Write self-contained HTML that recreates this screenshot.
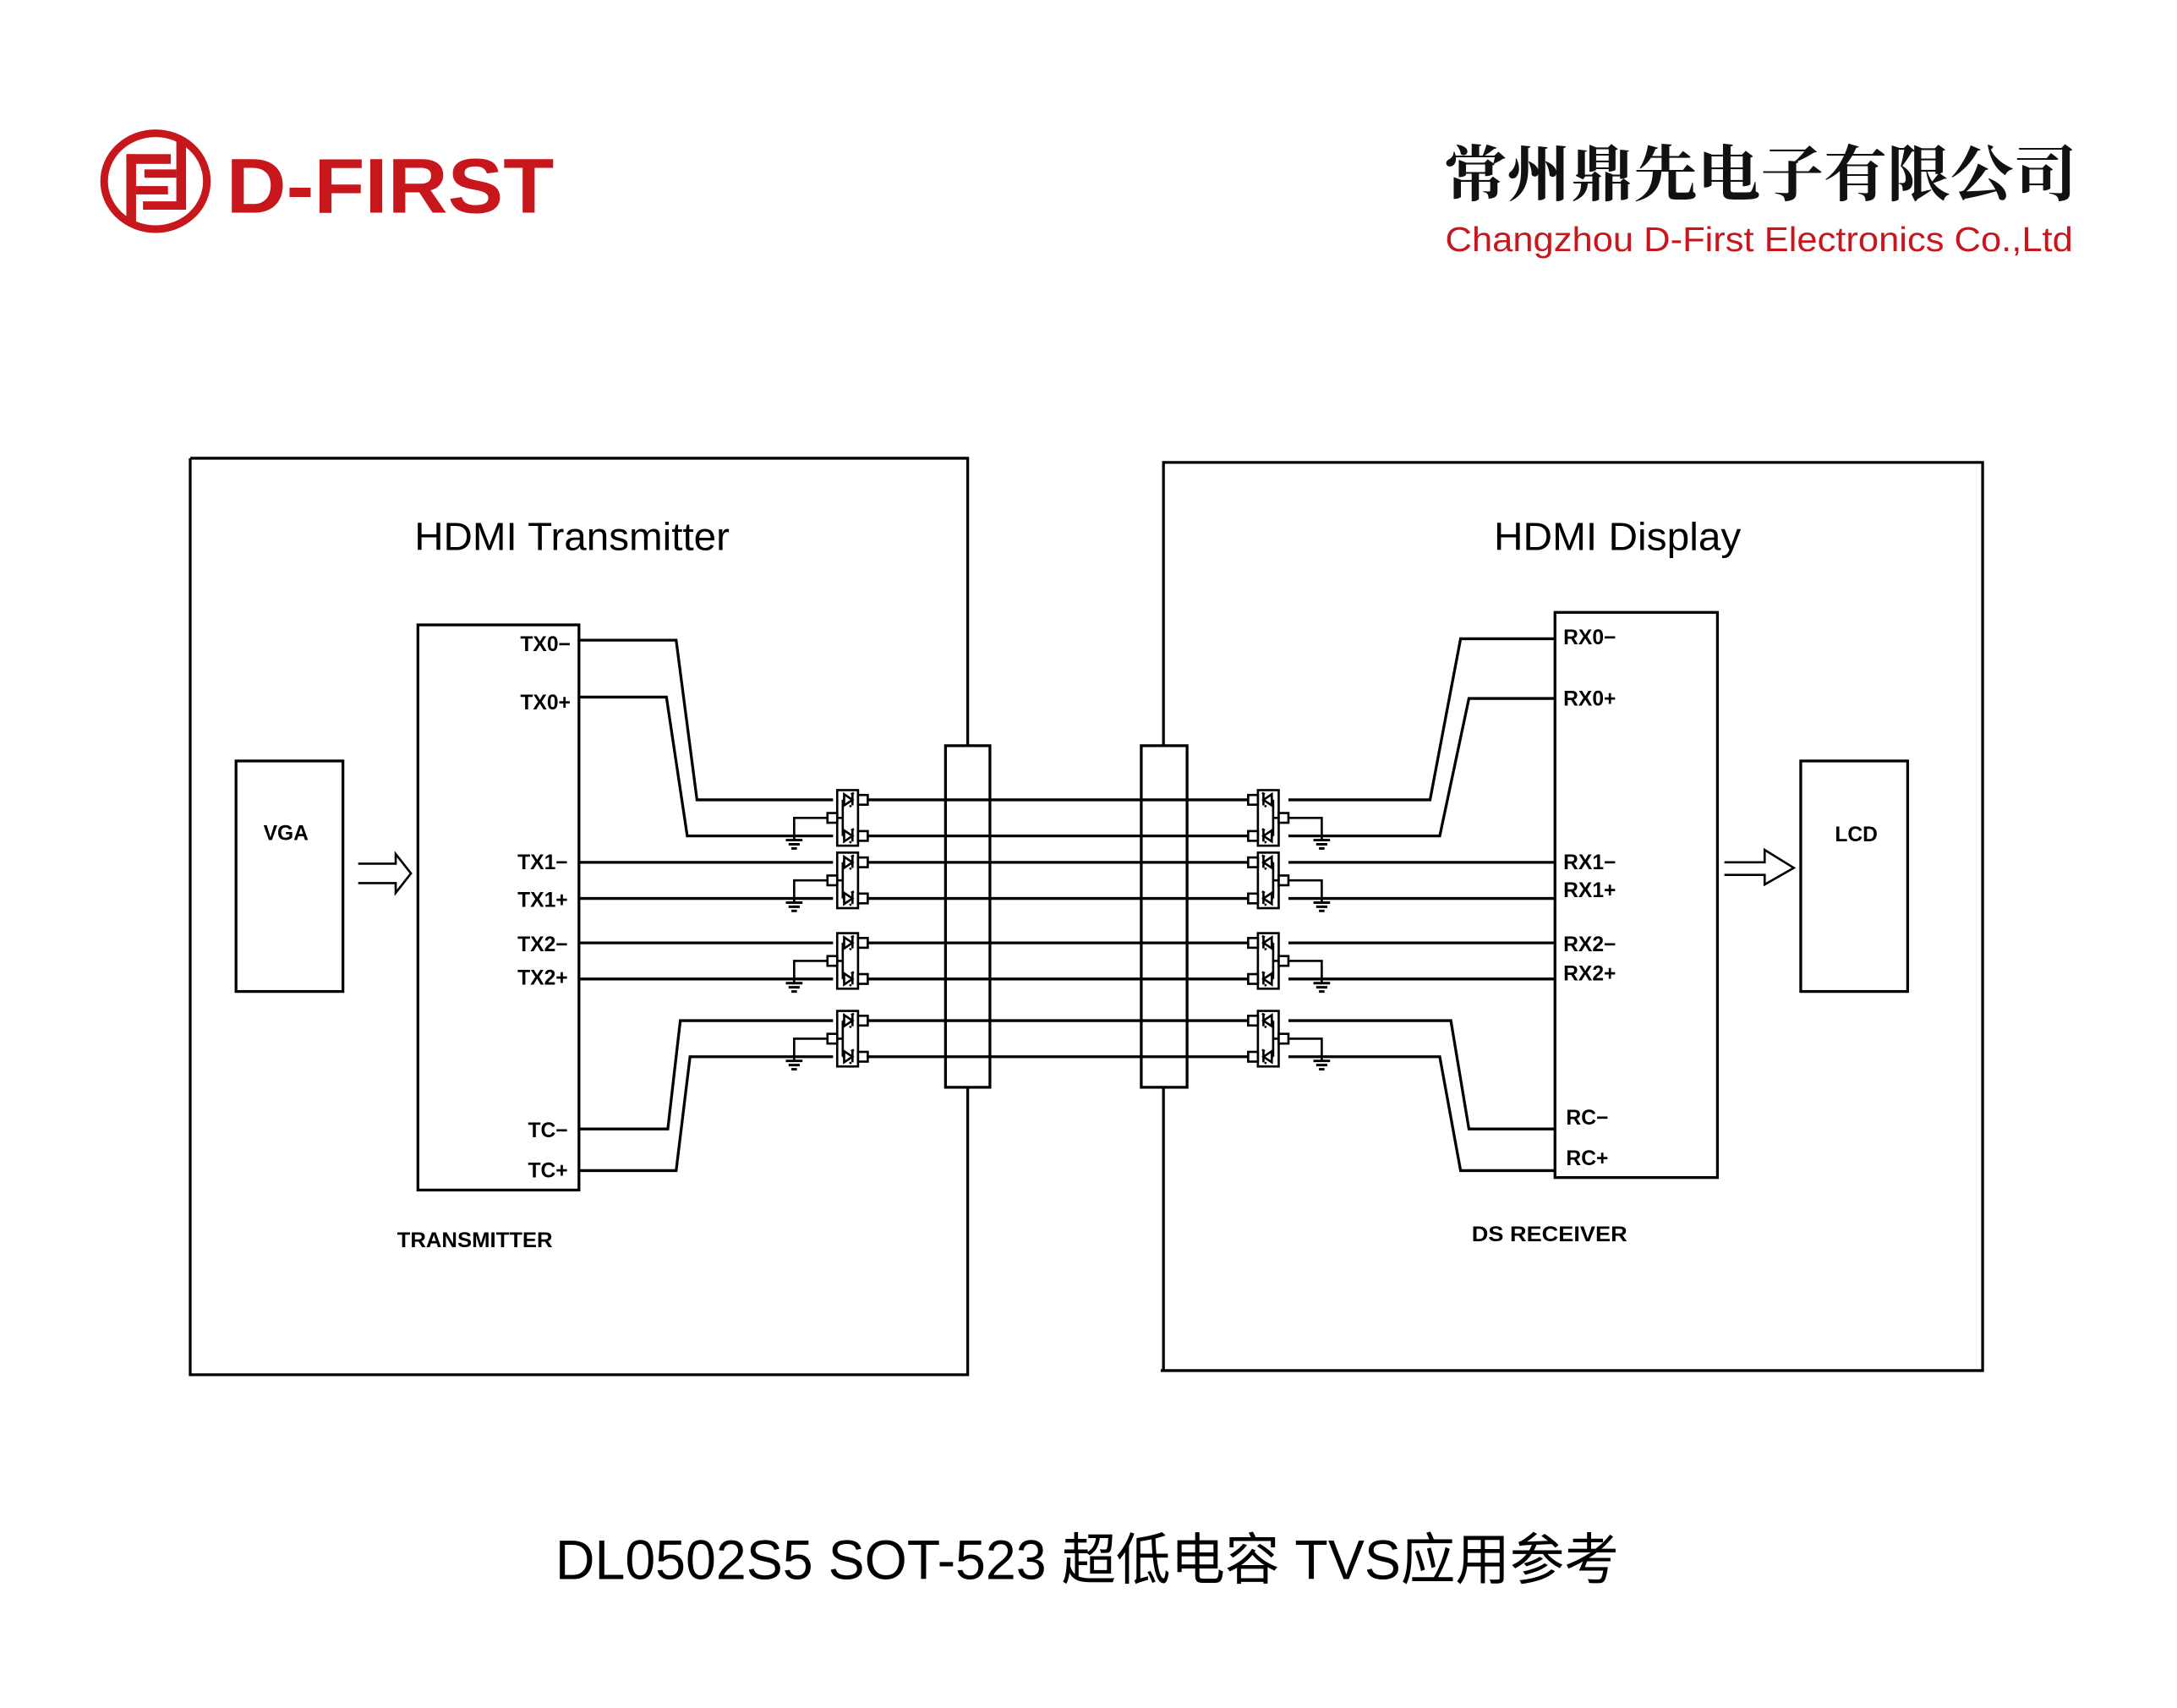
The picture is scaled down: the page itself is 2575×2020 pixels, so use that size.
<!DOCTYPE html>
<html><head><meta charset="utf-8"><style>
html,body{margin:0;padding:0;background:#fff;}
svg{display:block;}
text{font-family:"Liberation Sans","Noto Sans CJK SC",sans-serif;}
</style></head><body>
<svg width="2575" height="2020" viewBox="0 0 1568 1230" preserveAspectRatio="none" xmlns="http://www.w3.org/2000/svg">
<defs>
<g id="dev" fill="none" stroke="#000" stroke-width="1.6">
  <rect x="0" y="0" width="15" height="40" fill="#fff"/>
  <rect x="15" y="3.5" width="7" height="7" fill="#fff"/>
  <rect x="15" y="29.5" width="7" height="7" fill="#fff"/>
  <rect x="-7" y="16.5" width="7" height="7" fill="#fff"/>
  <path d="M0 20H4M4 7V33M4 7H5M4 33H5"/>
  <path d="M5 3L5 11L11 7Z M11 3V11 M10 3L12 2 M10 11L9 12"/>
  <path d="M5 29L5 37L11 33Z M11 29V37 M10 29L12 28 M10 37L9 38"/>
  <path d="M-7 20H-31V36"/>
  <path d="M-37 36H-25M-35 39H-27M-33 42H-29" stroke-width="1.8"/>
</g>
</defs>

<!-- Header logo -->
<g fill="#c8161d">
  <ellipse cx="112" cy="130.5" rx="37" ry="34.5" fill="none" stroke="#c8161d" stroke-width="5.5"/>
  <rect x="91" y="111" width="7" height="49"/>
  <rect x="91" y="111" width="32" height="7"/>
  <rect x="98" y="134" width="23" height="6"/>
  <rect x="127" y="101" width="7" height="50"/>
  <rect x="104" y="122" width="23" height="6"/>
  <rect x="103" y="145" width="31" height="6"/>
  <text x="163" y="153" font-size="56" font-weight="bold" textLength="236" lengthAdjust="spacingAndGlyphs" fill="#c8161d">D-FIRST</text>
</g>
<text x="1040" y="141" font-size="44" font-weight="bold" textLength="456" lengthAdjust="spacingAndGlyphs" style="font-family:'Noto Serif CJK SC','Noto Sans CJK SC',serif" fill="#111">常州鼎先电子有限公司</text>
<text x="1041" y="181" font-size="25" textLength="452" lengthAdjust="spacingAndGlyphs" fill="#c8161d">Changzhou D-First Electronics Co.,Ltd</text>

<g fill="none" stroke="#000" stroke-width="2">
  <path d="M137 330H697V537M697 783V990H137V330"/>
  <rect x="681" y="537" width="32" height="246"/>
  <path d="M838 537V333H1428V987H836M838 987V783"/>
  <rect x="822" y="537" width="33" height="246"/>
  <rect x="170" y="548" width="77" height="166"/>
  <rect x="1297" y="548" width="77" height="166"/>
  <path d="M258 622H285V615L296 629L285 643V636H258" stroke-width="1.6"/>
  <path d="M1242 621H1271V612L1292 625L1271 637V630H1242" stroke-width="1.6"/>
  <rect x="301" y="450" width="116" height="407"/>
  <rect x="1120" y="441" width="117" height="407"/>
  <path d="M417 461H487L502 576H600"/>
  <path d="M417 502H480L495 602H600"/>
  <path d="M417 621H600M417 647H600M417 679H600M417 705H600"/>
  <path d="M417 813H481L490 735H600"/>
  <path d="M417 843H487L497 761H600"/>
  <path d="M625 576H899M625 602H899M625 621H899M625 647H899M625 679H899M625 705H899M625 735H899M625 761H899"/>
  <path d="M1120 460H1052L1030 576H928"/>
  <path d="M1120 503H1058L1037 602H928"/>
  <path d="M1120 621H928M1120 647H928M1120 679H928M1120 705H928"/>
  <path d="M1120 813H1058L1045 735H928"/>
  <path d="M1120 843H1052L1037 761H928"/>
</g>

<use href="#dev" transform="translate(603,569)"/>
<use href="#dev" transform="translate(603,614)"/>
<use href="#dev" transform="translate(603,672)"/>
<use href="#dev" transform="translate(603,728)"/>
<use href="#dev" transform="translate(921,569) scale(-1,1)"/>
<use href="#dev" transform="translate(921,614) scale(-1,1)"/>
<use href="#dev" transform="translate(921,672) scale(-1,1)"/>
<use href="#dev" transform="translate(921,728) scale(-1,1)"/>

<text x="412" y="396" font-size="28" text-anchor="middle" textLength="227" lengthAdjust="spacingAndGlyphs">HDMI Transmitter</text>
<text x="1165" y="396" font-size="28" text-anchor="middle" textLength="178" lengthAdjust="spacingAndGlyphs">HDMI Display</text>
<text x="206" y="605" font-size="15" text-anchor="middle" font-weight="bold">VGA</text>
<text x="1337" y="606" font-size="15" text-anchor="middle" font-weight="bold">LCD</text>

<g font-size="15" text-anchor="end" font-weight="bold">
  <text x="411" y="469">TX0−</text>
  <text x="411" y="511">TX0+</text>
  <text x="409" y="626">TX1−</text>
  <text x="409" y="653">TX1+</text>
  <text x="409" y="685">TX2−</text>
  <text x="409" y="709">TX2+</text>
  <text x="409" y="819">TC−</text>
  <text x="409" y="848">TC+</text>
</g>
<g font-size="15" font-weight="bold">
  <text x="1126" y="464">RX0−</text>
  <text x="1126" y="508">RX0+</text>
  <text x="1126" y="626">RX1−</text>
  <text x="1126" y="646">RX1+</text>
  <text x="1126" y="685">RX2−</text>
  <text x="1126" y="706">RX2+</text>
  <text x="1128" y="810">RC−</text>
  <text x="1128" y="839">RC+</text>
</g>
<text x="286" y="898" font-size="15" font-weight="bold" textLength="112" lengthAdjust="spacingAndGlyphs">TRANSMITTER</text>
<text x="1060" y="894" font-size="15" font-weight="bold" textLength="112" lengthAdjust="spacingAndGlyphs">DS  RECEIVER</text>

<text x="400" y="1137" font-size="40" textLength="766" lengthAdjust="spacingAndGlyphs">DL0502S5 SOT-523 超低电容 TVS应用参考</text>
</svg>
</body></html>
